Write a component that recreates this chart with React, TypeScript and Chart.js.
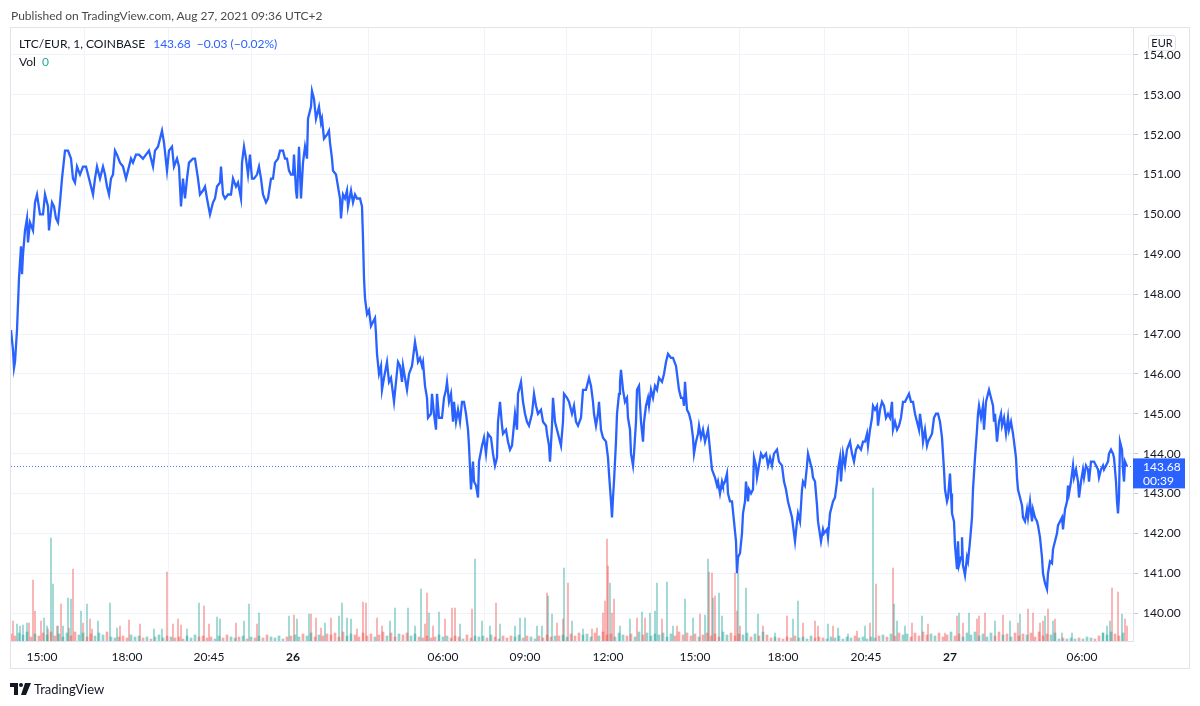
import React, { useEffect, useRef } from 'react';
import { Chart, registerables } from 'chart.js';

Chart.register(...registerables);

const FONT = 'Lato, "Open Sans", "DejaVu Sans", sans-serif';

// ---- axis ticks ----
const priceTicks = [140, 141, 142, 143, 144, 145, 146, 147, 148, 149, 150, 151, 152, 153, 154];
const timeTickBars = [42, 127, 209, 293, 443, 525, 608, 695, 783, 866, 950, 1082];
const timeTickLabels = ['15:00', '18:00', '20:45', '26', '06:00', '09:00', '12:00', '15:00', '18:00', '20:45', '27', '06:00'];
const boldTimeLabels = ['26', '27'];

// ---- header values ----
const symbolText = 'LTC/EUR, 1, COINBASE';
const lastPrice = 143.68;
const changeText = '\u22120.03 (\u22120.02%)';
const countdown = '00:39';

// ---- 1-minute close prices, [bar index, price] ----
const closeA: [number, number][] = [
  [11, 147.1], [13, 146.6], [14, 146.15], [15, 146.3], [17, 147.1], [19, 148.4], [21, 149.2], [22, 148.5], [23, 149.0], [25, 149.6],
  [27, 149.9], [28, 149.3], [30, 149.8], [33, 149.6], [35, 150.3], [37, 150.5], [40, 150.0], [43, 150.0], [45, 150.5], [48, 150.2],
  [49, 149.6], [52, 150.3], [54, 150.2], [56, 149.9], [58, 149.8], [60, 150.3], [62, 150.9], [65, 151.6], [68, 151.6], [71, 151.4],
  [73, 150.9], [75, 150.8], [77, 151.2], [80, 151.0], [83, 151.2], [86, 151.2], [88, 151.0], [91, 150.7], [93, 150.5], [95, 150.9],
  [97, 151.2], [100, 150.9], [103, 151.2], [105, 151.0], [107, 150.7], [109, 150.5], [111, 150.9], [113, 151.0], [115, 151.6], [117, 151.5],
  [120, 151.3], [123, 151.2], [126, 150.9], [128, 151.1], [131, 151.4], [133, 151.3], [136, 151.5], [139, 151.5], [143, 151.4], [146, 151.5],
  [149, 151.6], [153, 151.2], [155, 151.6], [158, 151.7], [160, 151.9], [162, 152.1], [164, 151.8], [167, 151.1], [169, 151.6], [172, 151.7],
  [174, 151.2], [177, 151.4], [179, 151.2], [181, 150.2], [183, 150.9], [185, 150.4], [187, 150.9], [189, 151.3], [193, 151.4], [195, 151.4],
  [198, 150.9], [200, 150.5], [203, 150.6], [205, 150.7], [207, 150.4], [210, 150.0], [213, 150.3], [215, 150.4], [217, 150.7], [220, 150.8],
  [221, 151.2], [223, 150.5], [225, 150.4], [228, 150.5], [231, 150.5], [233, 150.9], [236, 150.7], [238, 150.8], [241, 150.4], [242, 151.3],
  [244, 151.7], [246, 151.4], [248, 151.0], [250, 151.5], [252, 150.9], [254, 150.9], [257, 151.0], [259, 151.2], [261, 150.9], [263, 150.5],
  [266, 150.3], [268, 150.4], [271, 150.9], [273, 150.9], [275, 151.3], [278, 151.4], [280, 151.6], [283, 151.6], [285, 151.4], [287, 151.4],
  [289, 151.1],
];

const closeB: [number, number][] = [
  [291, 151.0], [293, 151.0], [294, 151.5], [296, 150.6], [297, 150.4], [299, 151.7], [301, 150.4], [303, 151.3], [305, 151.7], [307, 151.4],
  [308, 152.4], [311, 152.7], [312, 153.1], [314, 152.9], [316, 152.4], [318, 152.6], [319, 152.7], [321, 152.3], [322, 152.4], [324, 151.9],
  [327, 152.0], [329, 152.1], [330, 151.8], [332, 151.4], [333, 151.1], [336, 151.0], [338, 150.7], [340, 150.4], [341, 149.9], [343, 150.5],
  [345, 150.4], [347, 150.6], [348, 150.2], [351, 150.6], [353, 150.3], [355, 150.5], [357, 150.4], [360, 150.4], [362, 150.2], [363, 149.4],
  [364, 148.4], [365, 147.9], [367, 147.5], [369, 147.6], [371, 147.2], [373, 147.3], [375, 147.4], [376, 147.0], [377, 146.5], [379, 146.0],
  [381, 146.2], [382, 145.6], [384, 145.9], [387, 146.3], [389, 145.8], [391, 145.9], [393, 145.5], [394, 145.3], [396, 145.8], [398, 146.3],
  [400, 146.2], [402, 145.8], [403, 146.2], [405, 145.9], [407, 145.6], [409, 146.0], [412, 146.2], [413, 146.4], [415, 146.8], [417, 146.5],
  [418, 146.3], [420, 146.4], [422, 146.2], [423, 146.3], [425, 145.7], [427, 145.4], [428, 144.9], [431, 145.0], [432, 145.5], [434, 145.0],
  [436, 144.6], [437, 145.5], [439, 144.9], [442, 144.9], [444, 145.4], [446, 145.6], [447, 145.8], [449, 145.3], [451, 145.5], [453, 144.8],
  [454, 145.3], [456, 144.8], [458, 145.1], [460, 144.8], [462, 145.3], [464, 145.3], [466, 145.0], [468, 144.6], [469, 144.2], [471, 143.1],
  [473, 143.8], [474, 143.3], [476, 143.2], [478, 142.9], [479, 143.8], [482, 144.2], [484, 144.4], [486, 144.0], [488, 144.5], [491, 144.4],
  [493, 144.0], [495, 143.7], [497, 143.9], [498, 144.8], [500, 145.3], [502, 144.7], [503, 144.5], [506, 144.6], [508, 144.3], [510, 144.1],
  [512, 144.2], [515, 145.0], [517, 144.6], [518, 145.5], [521, 145.8], [523, 145.3], [525, 145.0], [527, 144.8], [529, 144.7], [532, 145.0],
  [534, 145.5], [536, 145.2], [538, 145.0], [541, 145.1], [543, 144.8], [546, 144.7], [547, 144.5], [549, 144.2], [550, 143.8], [552, 144.7],
  [553, 145.4], [555, 144.8], [557, 144.6], [559, 144.4], [561, 144.2], [563, 144.8],
];

const closeC: [number, number][] = [
  [564, 145.5], [567, 145.4], [569, 145.3], [572, 145.0], [574, 145.2], [576, 144.8], [578, 144.7], [581, 144.9], [583, 145.6], [586, 145.6],
  [589, 145.9], [591, 145.7], [593, 145.3], [594, 145.0], [596, 144.7], [598, 145.0], [599, 145.3], [601, 144.6], [603, 144.4], [606, 144.3],
  [608, 143.9], [609, 143.5], [611, 142.8], [612, 142.4], [613, 142.9], [614, 143.3], [616, 144.3], [617, 145.0], [619, 145.5], [620, 145.8],
  [621, 146.1], [623, 145.6], [625, 145.3], [627, 145.4], [628, 144.9], [630, 144.6], [631, 144.0], [633, 143.7], [634, 144.0], [636, 144.8],
  [637, 145.6], [639, 145.7], [641, 144.8], [643, 144.3], [644, 144.8], [646, 145.2], [648, 145.4], [649, 145.2], [651, 145.6], [653, 145.4],
  [655, 145.7], [657, 145.6], [659, 145.9], [662, 145.8], [664, 146.0], [666, 146.3], [668, 146.5], [671, 146.4], [673, 146.4], [676, 146.2],
  [677, 146.0], [679, 145.6], [681, 145.4], [683, 145.4], [684, 145.2], [685, 145.8], [687, 145.1], [689, 145.0], [691, 144.8], [693, 144.4],
  [694, 144.0], [696, 144.3], [698, 144.5], [699, 144.7], [701, 144.4], [703, 144.6], [705, 144.3], [707, 144.5], [708, 144.6], [710, 144.1],
  [712, 143.6], [713, 143.6], [715, 143.4], [717, 143.2], [718, 143.3], [720, 143.0], [722, 143.3], [723, 143.2], [725, 143.3], [727, 143.5],
  [728, 143.0], [730, 142.8], [732, 142.8], [734, 142.3], [736, 141.8], [737, 141.0], [738, 141.4], [740, 141.5], [742, 142.0], [743, 142.5],
  [745, 142.8], [746, 143.3], [748, 142.8], [749, 143.1], [751, 143.0], [753, 143.1], [754, 143.9], [756, 143.7], [757, 143.4], [759, 143.7],
  [761, 144.0], [763, 143.9], [766, 144.0], [768, 143.7], [770, 143.9], [772, 143.7], [774, 144.0], [777, 144.1], [779, 143.8], [782, 143.7],
  [784, 143.3], [786, 143.1], [788, 142.8], [790, 142.6], [792, 142.4], [793, 142.2], [795, 141.8], [797, 142.3], [798, 142.5], [800, 142.3],
  [802, 143.1], [803, 143.3], [805, 143.2], [807, 143.7], [808, 144.0], [810, 143.8], [812, 143.6], [813, 143.4], [815, 143.3], [817, 142.7],
  [818, 142.3], [821, 141.8], [823, 142.1], [824, 142.0], [827, 142.1], [828, 141.9], [830, 142.5], [832, 142.7], [833, 142.8], [835, 142.9],
  [837, 143.3], [838, 143.6], [840, 143.9],
];

const closeD: [number, number][] = [
  [841, 143.3], [843, 144.0], [845, 143.7], [847, 144.1], [850, 144.3], [852, 144.0], [854, 143.8], [856, 144.1], [858, 144.2], [861, 144.1],
  [863, 144.3], [865, 144.3], [867, 144.5], [868, 144.2], [870, 144.6], [872, 144.9], [873, 145.2], [875, 145.1], [877, 145.2], [878, 144.7],
  [880, 145.1], [882, 145.3], [884, 145.2], [886, 144.9], [888, 145.0], [890, 144.9], [892, 145.3], [893, 144.6], [895, 144.8], [897, 144.6],
  [899, 144.7], [901, 144.9], [903, 145.3], [905, 145.3], [907, 145.4], [909, 145.5], [911, 145.3], [913, 145.3], [915, 145.0], [917, 144.8],
  [919, 144.6], [920, 145.0], [922, 144.6], [923, 144.3], [925, 144.6], [927, 144.2], [928, 144.3], [930, 144.4], [932, 144.5], [934, 144.9],
  [936, 145.0], [938, 145.0], [940, 144.8], [942, 144.4], [943, 144.0], [944, 143.6], [945, 143.1], [947, 142.8], [948, 142.9], [950, 143.5],
  [951, 143.0], [952, 142.5], [954, 142.3], [955, 141.7], [957, 141.1], [958, 141.8], [959, 141.2], [961, 141.4], [962, 141.9], [963, 141.2],
  [965, 140.95], [967, 141.4], [968, 141.3], [970, 141.8], [972, 142.4], [973, 143.1], [975, 143.9], [977, 144.6], [978, 145.0], [979, 145.2],
  [981, 144.9], [983, 145.2], [984, 144.6], [986, 145.3], [988, 145.5], [989, 145.6], [991, 145.4], [993, 145.2], [994, 144.8], [995, 145.0],
  [997, 144.3], [999, 144.8], [1001, 145.0], [1002, 144.7], [1004, 144.9], [1006, 144.5], [1008, 144.9], [1009, 144.6], [1011, 144.8], [1013, 144.5],
  [1014, 144.3], [1016, 143.9], [1017, 143.4], [1018, 143.1], [1020, 142.9], [1022, 142.7], [1023, 142.4], [1025, 142.3], [1027, 142.6], [1028, 142.4],
  [1030, 142.8], [1032, 142.3], [1033, 142.6], [1035, 142.4], [1037, 142.3], [1038, 142.2], [1040, 141.9], [1042, 141.4], [1043, 141.0], [1045, 140.75],
  [1047, 140.6], [1048, 141.0], [1050, 141.3], [1052, 141.25], [1053, 141.6], [1055, 141.8], [1057, 142.0], [1058, 142.2], [1060, 142.3], [1062, 142.4],
  [1063, 142.1], [1065, 142.6], [1067, 142.8], [1068, 143.2], [1069, 143.0], [1071, 143.3], [1073, 143.7], [1074, 143.4], [1076, 143.6], [1078, 143.3],
  [1079, 142.9], [1081, 143.3], [1083, 143.6], [1084, 143.4], [1086, 143.7], [1088, 143.6], [1089, 143.3], [1091, 143.8], [1093, 143.8], [1094, 143.8],
  [1096, 143.7], [1098, 143.6], [1099, 143.4], [1101, 143.6], [1103, 143.7], [1104, 143.6], [1106, 143.7], [1108, 143.8], [1109, 144.0], [1111, 144.1],
  [1113, 144.0], [1114, 143.9], [1116, 143.3], [1117, 142.8], [1118, 142.5], [1119, 142.9], [1120, 144.3], [1122, 144.1], [1123, 143.6], [1124, 143.3],
  [1125, 143.8], [1127, 143.68],
];

// ---- volume spikes, [bar index, volume] ----
const volUp: [number, number][] = [
  [17, 17], [20, 15], [23, 16], [27, 18], [44, 23], [47, 15], [51, 103], [53, 57], [58, 15], [63, 15], [68, 43], [71, 42], [81, 30], [87, 37],
  [98, 20], [110, 38], [117, 13], [154, 12], [162, 12], [187, 12], [199, 38], [217, 24], [220, 22], [244, 20], [249, 37], [259, 28], [289, 25],
  [297, 22], [309, 27], [325, 18], [339, 25], [342, 38], [347, 23], [351, 22], [390, 20], [395, 33], [408, 33], [415, 15], [421, 52], [429, 28],
  [439, 29], [460, 17], [475, 82], [482, 20], [490, 15], [500, 17], [515, 15], [520, 23], [525, 23], [537, 15], [542, 15], [548, 45], [552, 27],
  [564, 73], [572, 20], [583, 12], [610, 58], [620, 15], [630, 22], [642, 29], [650, 28], [655, 30], [657, 58], [667, 59], [673, 15], [685, 42],
  [693, 23], [705, 26], [708, 82], [713, 43], [719, 48], [722, 25], [738, 68], [746, 53], [758, 27], [775, 8], [793, 22], [798, 40], [828, 17],
  [838, 13], [848, 7], [865, 15], [873, 153], [894, 37], [897, 20], [905, 15], [922, 25], [959, 28], [969, 28], [995, 20], [1010, 20], [1020, 27],
  [1045, 25], [1053, 20], [1062, 8], [1072, 8], [1103, 8], [1107, 15], [1110, 20], [1122, 27],
];

const volDown: [number, number][] = [
  [13, 20], [29, 18], [33, 61], [35, 30], [41, 20], [48, 12], [57, 15], [61, 37], [69, 13], [73, 72], [83, 18], [90, 22], [92, 12], [120, 15],
  [129, 21], [140, 17], [167, 69], [173, 17], [178, 22], [181, 16], [204, 35], [209, 17], [236, 18], [257, 17], [294, 26], [311, 27], [316, 23],
  [321, 13], [331, 23], [357, 12], [363, 39], [366, 38], [377, 23], [382, 15], [425, 17], [427, 48], [433, 15], [445, 22], [452, 33], [455, 33],
  [472, 32], [496, 38], [547, 48], [557, 18], [563, 22], [568, 58], [592, 12], [597, 13], [603, 28], [605, 40], [607, 102], [608, 75], [612, 28],
  [614, 42], [637, 23], [645, 23], [662, 22], [677, 15], [700, 27], [709, 69], [712, 68], [715, 45], [735, 68], [737, 30], [740, 15], [763, 15],
  [787, 25], [803, 18], [815, 20], [818, 15], [833, 15], [857, 10], [870, 18], [876, 57], [893, 73], [912, 18], [928, 17], [945, 8], [957, 25],
  [963, 18], [977, 22], [979, 25], [985, 28], [1003, 26], [1018, 18], [1028, 32], [1033, 28], [1040, 18], [1043, 20], [1048, 32], [1055, 22],
  [1112, 53], [1118, 49], [1125, 22], [1127, 15],
];

// ---- background volume, one estimate every 4 bars starting at bar 11 ----
const volBaseStart = 11;
const volBaseStep = 4;
const volBaseSegments = [
  '7586947586957485968475869',
  '434536453424635434253645342536434524353643524',
  '56475846576849576485746958476857',
  '43534645354263545364253546354253645',
  '56475867485967486574968576847596857468574968576847596',
  '343243534253432435243534243',
  '564758674859675846957486957485967485768495768',
  '2323232432',
  '5869758',
];

const UP = 'rgba(38,166,154,0.5)';
const DOWN = 'rgba(239,83,80,0.5)';
const LINE = '#2962ff';

export default function App() {
  const ref = useRef<HTMLCanvasElement>(null);

  useEffect(() => {
    const canvas = ref.current;
    if (!canvas) return;
    const closes = [...closeA, ...closeB, ...closeC, ...closeD];
    const priceAt = (b: number) => {
      for (let i = 1; i < closes.length; i++) {
        if (closes[i][0] >= b) {
          const [x0, y0] = closes[i - 1];
          const [x1, y1] = closes[i];
          return y0 + ((b - x0) / (x1 - x0)) * (y1 - y0);
        }
      }
      return closes[closes.length - 1][1];
    };
    const digits = volBaseSegments.join('');
    const baseUp: { x: number; y: number }[] = [];
    const baseDown: { x: number; y: number }[] = [];
    for (let k = 0; k < digits.length; k++) {
      const b = volBaseStart + k * volBaseStep;
      const v = Number(digits[k]);
      const up = priceAt(b) >= priceAt(b - volBaseStep);
      (up ? baseUp : baseDown).push({ x: b, y: v });
    }

    const yMin = 139.3;
    const yMax = 154.677;

    const lastPricePlugin = {
      id: 'lastPrice',
      afterDraw(chart: any) {
        const { ctx, chartArea } = chart;
        const ys = chart.scales.y;
        const py = ys.getPixelForValue(lastPrice);
        ctx.save();
        ctx.strokeStyle = 'rgba(41,98,255,0.85)';
        ctx.lineWidth = 1;
        ctx.setLineDash([1, 2]);
        ctx.beginPath();
        ctx.moveTo(chartArea.left, Math.round(py) + 0.5);
        ctx.lineTo(chartArea.right, Math.round(py) + 0.5);
        ctx.stroke();
        ctx.setLineDash([]);
        const left = ys.left;
        ctx.fillStyle = LINE;
        ctx.fillRect(left, py - 8, 52, 30);
        ctx.fillStyle = '#ffffff';
        ctx.font = `12px ${FONT}`;
        ctx.textBaseline = 'middle';
        ctx.textAlign = 'left';
        ctx.fillText(lastPrice.toFixed(2), left + 10, py + 1);
        ctx.fillText(countdown, left + 10, py + 15);
        ctx.restore();
      },
    };

    const volDataset = (data: { x: number; y: number }[], color: string, thickness: number) =>
      ({
        type: 'bar',
        data,
        backgroundColor: color,
        barThickness: thickness,
        grouped: false,
        yAxisID: 'yv',
        order: 1,
      }) as any;

    const chart = new Chart(canvas, {
      type: 'line',
      data: {
        datasets: [
          {
            type: 'line',
            data: closes.map(([x, y]) => ({ x, y })),
            borderColor: LINE,
            borderWidth: 2.3,
            pointRadius: 0,
            tension: 0,
            yAxisID: 'y',
            order: 0,
          } as any,
          volDataset(baseUp, UP, 2),
          volDataset(baseDown, DOWN, 2),
          volDataset(volUp.map(([x, y]) => ({ x, y })), UP, 1),
          volDataset(volDown.map(([x, y]) => ({ x, y })), DOWN, 1),
        ],
      },
      options: {
        responsive: false,
        animation: false,
        events: [],
        layout: { padding: { left: 11, top: 28, right: 11, bottom: 38 } },
        plugins: { legend: { display: false }, tooltip: { enabled: false } },
        scales: {
          x: {
            type: 'linear',
            min: 11,
            max: 1133,
            offset: false,
            afterBuildTicks: (s: any) => {
              s.ticks = timeTickBars.map((v) => ({ value: v }));
            },
            afterFit: (s: any) => {
              s.height = 27;
            },
            grid: { color: '#f0f3fa', drawTicks: false },
            border: { color: '#e0e3eb' },
            ticks: {
              autoSkip: false,
              maxRotation: 0,
              padding: 9,
              color: '#131722',
              font: (c: any) => ({
                family: FONT,
                size: 12,
                weight: boldTimeLabels.includes(timeTickLabels[c.index]) ? 'bold' : 'normal',
              }),
              callback: (_v: any, i: number) => timeTickLabels[i],
            },
          },
          y: {
            position: 'right',
            min: yMin,
            max: yMax,
            afterBuildTicks: (s: any) => {
              s.ticks = priceTicks.map((v) => ({ value: v }));
            },
            afterFit: (s: any) => {
              s.width = 56;
            },
            grid: { color: '#f0f3fa', tickColor: '#c9cbd3', tickLength: 5 },
            border: { color: '#e0e3eb' },
            ticks: {
              padding: 5,
              color: '#131722',
              font: { family: FONT, size: 12 },
              callback: (v: any) => Number(v).toFixed(2),
            },
          },
          yv: { display: false, min: 0, max: 613 },
        },
      } as any,
      plugins: [lastPricePlugin],
    });
    return () => chart.destroy();
  }, []);

  const abs = (s: React.CSSProperties): React.CSSProperties => ({ position: 'absolute', whiteSpace: 'nowrap', ...s });

  return (
    <div style={{ position: 'absolute', left: 0, top: 0, width: 1200, height: 706, background: '#ffffff', overflow: 'hidden', fontFamily: FONT }}>
      <div style={abs({ left: 10, top: 27, width: 1180, height: 642, border: '1px solid #e0e3eb', boxSizing: 'border-box' })} />
      <canvas ref={ref} width={1200} height={706} style={{ position: 'absolute', left: 0, top: 0 }} />
      <div style={abs({ left: 11, top: 7, fontSize: 12, lineHeight: '17px', color: '#4a4a4a' })}>
        Published on TradingView.com, Aug 27, 2021 09:36 UTC+2
      </div>
      <div style={abs({ left: 19, top: 35, fontSize: 12, lineHeight: '17px', color: '#131722' })}>
        {symbolText}
        <span style={{ color: LINE, marginLeft: 8 }}>{lastPrice.toFixed(2)}</span>
        <span style={{ color: LINE, marginLeft: 6 }}>{changeText}</span>
      </div>
      <div style={abs({ left: 19, top: 53, fontSize: 12, lineHeight: '17px', color: '#131722' })}>
        Vol<span style={{ color: '#26a69a', marginLeft: 6 }}>0</span>
      </div>
      <div
        style={abs({
          left: 1148,
          top: 35,
          width: 28,
          height: 16,
          border: '1px solid #e0e3eb',
          borderRadius: 3,
          background: '#ffffff',
          boxSizing: 'border-box',
          fontSize: 11,
          lineHeight: '14px',
          textAlign: 'center',
          color: '#131722',
        })}
      >
        EUR
      </div>
      <svg style={abs({ left: 10, top: 683 })} width={22} height={12} viewBox="0 0 22 12">
        <path d="M0 0 H8 V12 H4 V4 H0 Z" fill="#131722" />
        <circle cx="11" cy="2" r="2" fill="#131722" />
        <path d="M15 0 H21 L16 12 H11 Z" fill="#131722" />
      </svg>
      <div style={abs({ left: 34, top: 680, fontSize: 13, lineHeight: '18px', color: '#131722' })}>TradingView</div>
    </div>
  );
}
